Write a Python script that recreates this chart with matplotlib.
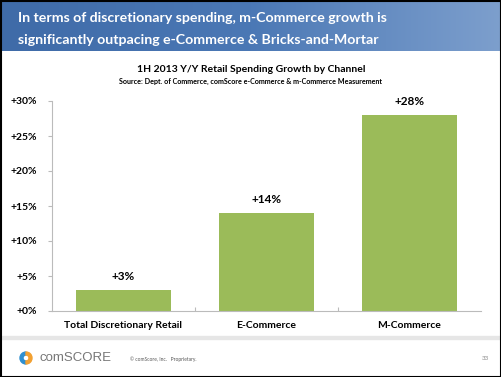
import matplotlib.pyplot as plt
import numpy as np
from matplotlib.patches import Rectangle, Wedge

plt.rcParams['font.family'] = ['Lato', 'DejaVu Sans']

categories = ['Total Discretionary Retail', 'E-Commerce', 'M-Commerce']
growth = [3, 14, 28]
yticks = [0, 5, 10, 15, 20, 25, 30]

W, H = 502, 377
fig = plt.figure(figsize=(W / 100, H / 100), dpi=100)
fig.patch.set_facecolor('white')

# header band
bg = fig.add_axes([0, 0, 1, 1])
bg.set_xlim(0, W)
bg.set_ylim(H, 0)
bg.axis('off')
grad = np.linspace(0, 1, 256).reshape(1, -1)
bg.imshow(grad, extent=[0, W, 51, 0], cmap=plt.matplotlib.colors.LinearSegmentedColormap.from_list(
    'hdr', ['#3f6ba8', '#4b78b5', '#7d9fcd']), aspect='auto', zorder=0)
bg.text(18, 18, 'In terms of discretionary spending, m-Commerce growth is',
        color='white', fontsize=10.2, fontweight='bold', va='center')
bg.text(18, 40, 'significantly outpacing e-Commerce & Bricks-and-Mortar',
        color='white', fontsize=10.2, fontweight='bold', va='center')

bg.text(251, 70, '1H 2013 Y/Y Retail Spending Growth by Channel', ha='center',
        va='center', fontsize=7.5, fontweight='bold')
bg.text(251, 81, 'Source: Dept. of Commerce, comScore e-Commerce & m-Commerce Measurement',
        ha='center', va='center', fontsize=5.1, fontweight='bold')

# footer
bg.add_patch(Rectangle((2, 336), W - 4, 3, color='#e6e6e6', zorder=1))
bg.add_patch(Wedge((26, 358), 6, 90, 270, width=3, color='#2e8fd0', zorder=2))
bg.add_patch(Wedge((26, 358), 6, -90, 90, width=3, color='#f2a030', zorder=2))
bg.text(40, 358, 'comSCORE', color='#777777', fontsize=9.5, va='center',
        family=['Liberation Sans'])
bg.text(130, 359, '© comScore, Inc.   Proprietary.', color='#555555', fontsize=3.5, va='center')
bg.text(489, 359, '33', color='#888888', fontsize=4.5, va='center', ha='right')
bg.add_patch(Rectangle((0.5, 0.5), W - 1, H - 1, fill=False, ec='black', lw=1.5, zorder=5))

# chart
ax = fig.add_axes([52 / W, 1 - 311 / H, 429 / W, 210 / H])
x = np.arange(len(categories))
ax.bar(x, growth, width=0.67, color='#9bbb59')
for xi, v in zip(x, growth):
    ax.text(xi, v + 1.2, '+%d%%' % v, ha='center', va='bottom', fontsize=8.5, fontweight='bold')
ax.set_xlim(-0.5, 2.5)
ax.set_ylim(0, 30)
ax.set_yticks(yticks)
ax.set_yticklabels(['+%d%%' % t for t in yticks], fontsize=7.5, fontweight='bold')
ax.set_xticks([0.5, 1.5], minor=False)
ax.set_xticklabels(['', ''])
ax.set_xticks(x, minor=True)
ax.set_xticklabels(categories, minor=True, fontsize=7.5, fontweight='bold')
ax.tick_params(axis='x', which='minor', length=0, pad=7)
ax.tick_params(axis='x', which='major', length=3, color='#bbbbbb', direction='in')
ax.tick_params(axis='y', length=3, color='#bbbbbb', pad=8)
for s in ['top', 'right']:
    ax.spines[s].set_visible(False)
for s in ['left', 'bottom']:
    ax.spines[s].set_color('#bbbbbb')

fig.savefig('out.png', dpi=100)
